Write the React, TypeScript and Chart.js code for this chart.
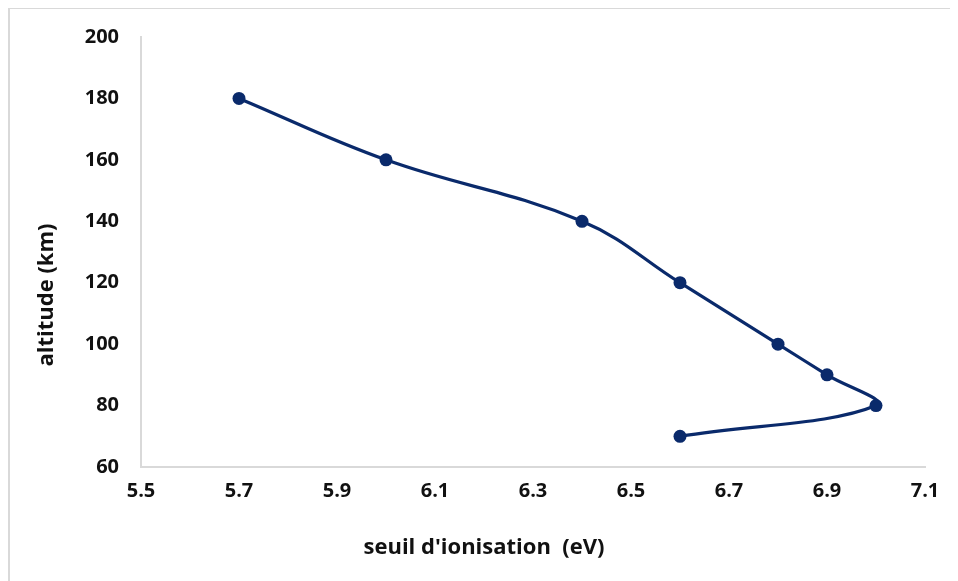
import { useEffect, useRef } from 'react';
import { Chart, registerables } from 'chart.js';

Chart.register(...registerables);

// Data
const ionisationThresholdEv = [5.7, 6.0, 6.4, 6.6, 6.8, 6.9, 7.0, 6.6];
const altitudeKm = [180, 160, 140, 120, 100, 90, 80, 70];

const xTickValues = [5.5, 5.7, 5.9, 6.1, 6.3, 6.5, 6.7, 6.9, 7.1];
const yTickValues = [60, 80, 100, 120, 140, 160, 180, 200];

const xTitle = "seuil d'ionisation  (eV)";
const yTitle = 'altitude (km)';

const LINE_COLOR = '#0a2a6b';
const AXIS_COLOR = '#d9d9d9';
const TEXT_COLOR = '#111111';
const TICK_FONT = '"Open Sans", Lato, sans-serif';
const TITLE_FONT = '"Open Sans", Lato, sans-serif';

export default function App() {
  const canvasRef = useRef<HTMLCanvasElement | null>(null);

  useEffect(() => {
    if (!canvasRef.current) return;
    const points = ionisationThresholdEv.map((x, i) => ({ x, y: altitudeKm[i] }));
    const chart = new Chart(canvasRef.current, {
      type: 'scatter',
      data: {
        datasets: [
          {
            data: points,
            showLine: true,
            tension: 0.4,
            borderColor: LINE_COLOR,
            backgroundColor: LINE_COLOR,
            borderWidth: 3.2,
            pointRadius: 6.5,
            pointBorderWidth: 0,
            pointBackgroundColor: LINE_COLOR,
            xAxisID: 'x',
            yAxisID: 'y',
          },
        ],
      },
      options: {
        responsive: false,
        animation: false,
        layout: { padding: 0 },
        plugins: {
          legend: { display: false },
          tooltip: { enabled: false },
          title: {
            display: true,
            position: 'bottom',
            text: xTitle,
            color: TEXT_COLOR,
            font: { family: TITLE_FONT, weight: 'bold', size: 22 },
            padding: { top: 0, bottom: 20 },
          },
          subtitle: {
            display: true,
            position: 'left',
            text: yTitle,
            color: TEXT_COLOR,
            font: { family: TITLE_FONT, weight: 'bold', size: 22 },
            padding: { top: 24, bottom: 0 },
          },
        },
        scales: {
          x: {
            type: 'linear',
            position: 'bottom',
            min: 5.5,
            max: 7.1,
            grid: { display: false, drawTicks: false },
            border: { display: true, color: AXIS_COLOR, width: 2 },
            ticks: {
              padding: 12,
              color: TEXT_COLOR,
              font: { family: TICK_FONT, weight: 'bold', size: 20 },
              callback: (v: any) => Number(v).toFixed(1),
            },
            afterBuildTicks: (s: any) => {
              s.ticks = xTickValues.map((value) => ({ value }));
            },
            afterFit: (s: any) => {
              s.height = 67.6;
              s.paddingLeft = 0;
              s.paddingRight = 0;
            },
          },
          x2: {
            type: 'linear',
            position: 'top',
            display: true,
            grid: { display: false, drawTicks: false },
            border: { display: false },
            ticks: { display: false },
            afterFit: (s: any) => {
              s.height = 28;
              s.paddingLeft = 0;
              s.paddingRight = 0;
            },
          },
          y: {
            type: 'linear',
            position: 'left',
            min: 60,
            max: 200,
            grid: { display: false, drawTicks: false },
            border: { display: true, color: AXIS_COLOR, width: 2 },
            ticks: {
              padding: 22,
              color: TEXT_COLOR,
              font: { family: TICK_FONT, weight: 'bold', size: 20 },
            },
            afterBuildTicks: (s: any) => {
              s.ticks = yTickValues.map((value) => ({ value }));
            },
            afterFit: (s: any) => {
              s.width = 80.6;
              s.paddingTop = 0;
              s.paddingBottom = 0;
            },
          },
          y2: {
            type: 'linear',
            position: 'right',
            display: true,
            grid: { display: false, drawTicks: false },
            border: { display: false },
            ticks: { display: false },
            afterFit: (s: any) => {
              s.width = 33;
              s.paddingTop = 0;
              s.paddingBottom = 0;
            },
          },
        },
      },
    } as any);
    return () => chart.destroy();
  }, []);

  return (
    <div
      style={{
        marginTop: -1,
        width: 948,
        height: 572,
        borderLeft: `2px solid ${AXIS_COLOR}`,
        borderTop: `2px solid ${AXIS_COLOR}`,
        background: '#ffffff',
      }}
    >
      <canvas ref={canvasRef} width={948} height={572} style={{ display: 'block', width: 948, height: 572 }} />
    </div>
  );
}
